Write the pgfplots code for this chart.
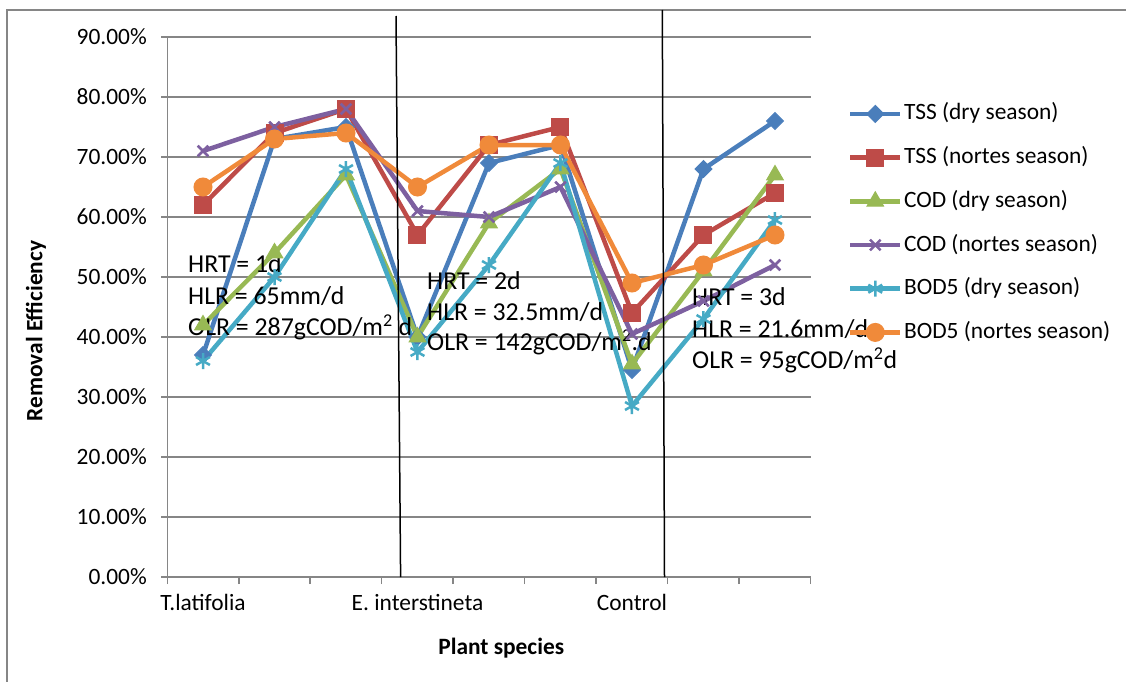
\documentclass[border=0pt]{standalone}
\usepackage{pgfplots}
\pgfplotsset{compat=1.18}
\usepackage{fontspec}
\setmainfont{Carlito}

\definecolor{tssd}{HTML}{4A7EBB}
\definecolor{tssn}{HTML}{BE4B48}
\definecolor{codd}{HTML}{98B954}
\definecolor{codn}{HTML}{7D60A0}
\definecolor{bodd}{HTML}{46AAC5}
\definecolor{bodn}{HTML}{F08A3A}
\definecolor{gridgray}{HTML}{868686}

\newcommand{\chartfont}{\fontsize{23.4bp}{28bp}\selectfont}
\newcommand{\notefont}{\fontsize{25.8bp}{31bp}\selectfont}

\begin{document}
\begin{tikzpicture}
\path[use as bounding box] (0,0) rectangle (1126bp,-682bp);
\draw[gridgray, line width=1.5bp] (7bp,-682bp) -- (7bp,-10bp) -- (1126bp,-10bp);
\begin{axis}[
  at={(167.25bp,-577bp)}, anchor=south west,
  scale only axis, width=643.5bp, height=540bp,
  xmin=0.5, xmax=9.5, ymin=0, ymax=90,
  axis lines*=left,
  axis line style={gridgray, line width=1.5bp},
  clip=false,
  xtick={1,4,7},
  xticklabels={T.latifolia, E. interstineta, Control},
  minor xtick={0.5,1.5,...,9.5},
  major x tick style={draw=none},
  minor x tick style={gridgray, line width=1.5bp},
  ytick={0,10,...,90},
  y tick style={gridgray, line width=1.5bp},
  yticklabel={\pgfmathprintnumber[fixed,fixed zerofill,precision=2]{\tick}\%},
  /pgf/number format/assume math mode=true,
  ymajorgrids=true,
  major grid style={gridgray, line width=1.5bp},
  tick align=outside,
  major tick length=6bp, minor tick length=7bp,
  tick label style={font=\chartfont, text=black},
  yticklabel style={xshift=-11bp},
  xticklabel style={yshift=-8bp},
  xlabel={Plant species}, ylabel={Removal Efficiency},
  label style={font=\chartfont\bfseries},
  xlabel style={at={(rel axis cs:0.519,-0.1315)}, anchor=center},
  ylabel style={at={(rel axis cs:-0.204,0.4556)}, anchor=center},
  legend style={draw=none, fill=none, at={(rel axis cs:1.053,0.8848)}, anchor=north west,
    font=\chartfont, row sep=18.7bp,
    nodes={inner sep=1.5bp, text height=17bp, text depth=5bp}},
  legend cell align=left,
  legend image code/.code={\draw[mark repeat=2,mark phase=2] plot coordinates {(0bp,0bp) (25bp,0bp) (50bp,0bp)};},
  every axis plot/.append style={line width=4.5bp},
]
\addplot[tssd, mark=square*, mark size=6bp, mark options={rotate=45, solid, line width=1bp}]
  coordinates {(1,37) (2,73) (3,75) (4,40) (5,69) (6,72) (7,34.5) (8,68) (9,76)};
\addlegendentry{TSS (dry season)}
\addplot[tssn, mark=square*, mark size=8.5bp, mark options={solid, line width=1bp}]
  coordinates {(1,62) (2,74) (3,78) (4,57) (5,72) (6,75) (7,44) (8,57) (9,64)};
\addlegendentry{TSS (nortes season)}
\addplot[codd, mark=triangle*, mark size=9.5bp, mark options={solid, line width=1bp}]
  coordinates {(1,42) (2,54) (3,67) (4,40) (5,59) (6,68) (7,35.5) (8,51) (9,67)};
\addlegendentry{COD (dry season)}
\addplot[codn, mark=x, mark size=7.5bp, mark options={solid, line width=2.5bp}]
  coordinates {(1,71) (2,75) (3,78) (4,61) (5,60) (6,65) (7,40.5) (8,46) (9,52)};
\addlegendentry{COD (nortes season)}
\addplot[bodd, mark=asterisk, mark size=8bp, mark options={solid, line width=2.5bp}]
  coordinates {(1,36) (2,50) (3,68) (4,37.5) (5,52) (6,69) (7,28.5) (8,43) (9,59.5)};
\addlegendentry{BOD5 (dry season)}
\addplot[bodn, mark=*, mark size=9bp, mark options={solid, line width=1bp}]
  coordinates {(1,65) (2,73) (3,74) (4,65) (5,72) (6,72) (7,49) (8,52) (9,57)};
\addlegendentry{BOD5 (nortes season)}

\node[font=\notefont, anchor=base west, inner sep=0pt] at (axis cs:0.790,50.67) {HRT = 1d};
\node[font=\notefont, anchor=base west, inner sep=0pt] at (axis cs:0.790,45.42) {HLR = 65mm/d};
\node[font=\notefont, anchor=base west, inner sep=0pt] at (axis cs:0.790,40.17) {OLR = 287gCOD/m\textsuperscript{2} d};
\node[font=\notefont, anchor=base west, inner sep=0pt] at (axis cs:4.133,48) {HRT = 2d};
\node[font=\notefont, anchor=base west, inner sep=0pt] at (axis cs:4.133,42.83) {HLR = 32.5mm/d};
\node[font=\notefont, anchor=base west, inner sep=0pt] at (axis cs:4.133,37.67) {OLR = 142gCOD/m\textsuperscript{2}.d};
\node[font=\notefont, anchor=base west, inner sep=0pt] at (axis cs:7.839,45.33) {HRT = 3d};
\node[font=\notefont, anchor=base west, inner sep=0pt] at (axis cs:7.839,40) {HLR = 21.6mm/d};
\node[font=\notefont, anchor=base west, inner sep=0pt] at (axis cs:7.839,34.83) {OLR = 95gCOD/m\textsuperscript{2}d};
\end{axis}
\draw[black, line width=1.5bp] (396bp,-16bp) -- (400.6bp,-577bp);
\draw[black, line width=1.5bp] (662.3bp,-10bp) -- (664.5bp,-577bp);
\end{tikzpicture}
\end{document}
